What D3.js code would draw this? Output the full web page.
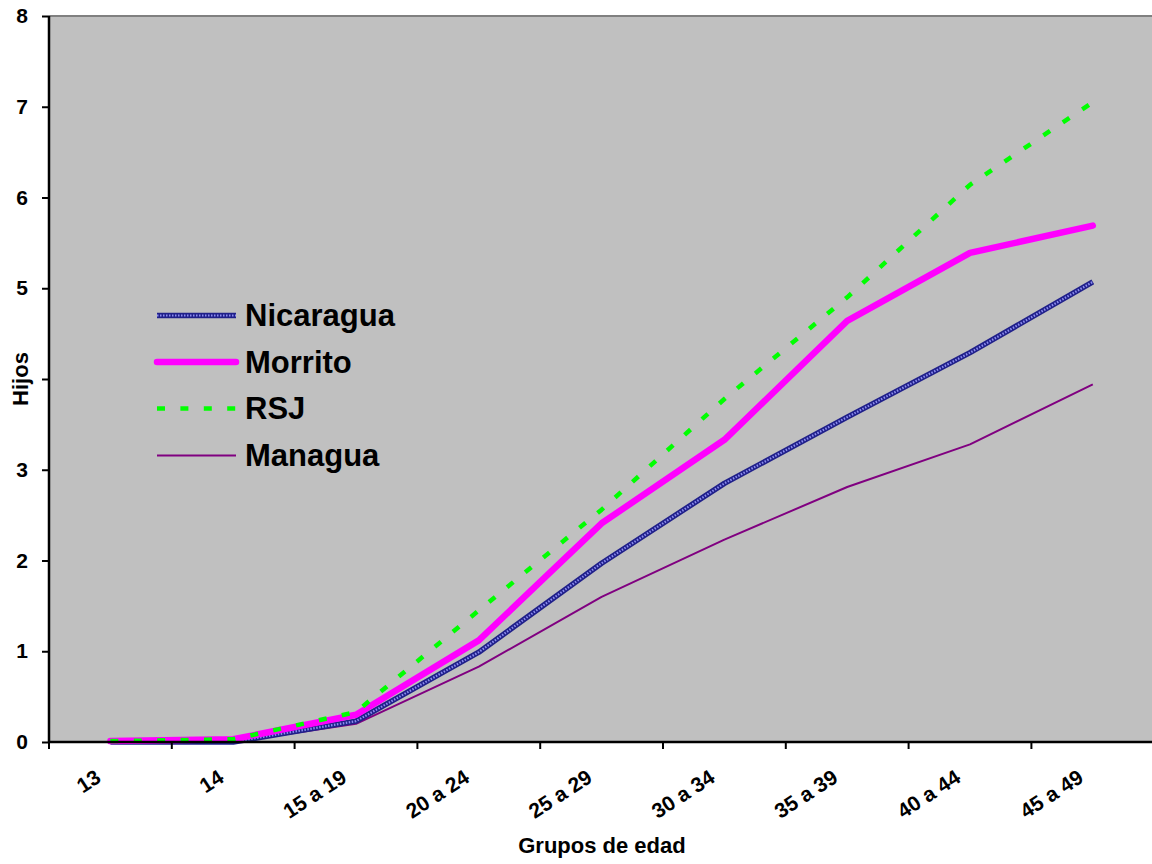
<!DOCTYPE html>
<html>
<head>
<meta charset="utf-8">
<script src="https://cdn.jsdelivr.net/npm/d3@7"></script>
<style>
  html, body { margin: 0; padding: 0; background: #ffffff; }
  svg { display: block; font-family: "Liberation Sans", Arial, sans-serif; }
</style>
</head>
<body>
<svg id="chart" width="1152" height="864"></svg>
<script>
// Age groups (x categories)
const categories = ["13", "14", "15 a 19", "20 a 24", "25 a 29", "30 a 34", "35 a 39", "40 a 44", "45 a 49"];

// Average number of children by age group
const nicaragua = [0.00, 0.00, 0.23, 0.99, 1.97, 2.85, 3.58, 4.29, 5.07];
const morrito   = [0.01, 0.03, 0.30, 1.12, 2.41, 3.33, 4.64, 5.39, 5.69];
const rsj       = [0.01, 0.03, 0.33, 1.45, 2.56, 3.78, 4.90, 6.14, 7.05];
const managua   = [0.00, 0.00, 0.20, 0.83, 1.60, 2.23, 2.81, 3.28, 3.94];

const yTicks = [0, 1, 2, 3, 4, 5, 6, 7, 8];
const seriesNames = ["Nicaragua", "Morrito", "RSJ", "Managua"];

const svg = d3.select("#chart");
const plot = { left: 49, top: 16, bottom: 742, right: 49 + 9 * 122.8 };

const x = d3.scaleBand().domain(categories).range([plot.left, plot.right]).paddingInner(0).paddingOuter(0);
const y = d3.scaleLinear().domain([0, 8]).range([plot.bottom, plot.top]);
const cx = c => x(c) + x.bandwidth() / 2;

// Plot background and border
svg.append("rect")
  .attr("x", plot.left).attr("y", plot.top)
  .attr("width", plot.right - plot.left).attr("height", plot.bottom - plot.top)
  .attr("fill", "#c0c0c0");
svg.append("line")
  .attr("x1", plot.left).attr("x2", plot.right)
  .attr("y1", plot.top).attr("y2", plot.top)
  .attr("stroke", "#808080").attr("stroke-width", 2);
svg.append("line")
  .attr("x1", plot.right).attr("x2", plot.right)
  .attr("y1", plot.top).attr("y2", plot.bottom)
  .attr("stroke", "#808080").attr("stroke-width", 2);

// Series styles
const styles = {
  Nicaragua: [
    { stroke: "#20208a", width: 5.5, dash: null, cap: "butt" },
    { stroke: "#8c8cf0", width: 2.2, dash: "1.5,1.5", cap: "butt" }
  ],
  Morrito: [{ stroke: "#ff00ff", width: 6.5, dash: null, cap: "round" }],
  RSJ: [{ stroke: "#00ff00", width: 4.5, dash: "8,15.4", cap: "butt" }],
  Managua: [{ stroke: "#800080", width: 2, dash: null, cap: "butt" }]
};
const seriesData = { Nicaragua: nicaragua, Morrito: morrito, RSJ: rsj, Managua: managua };

const line = d3.line().x(d => cx(d.c)).y(d => y(d.v));

// draw order: Managua, Nicaragua, Morrito, RSJ on top
["Managua", "Nicaragua", "Morrito", "RSJ"].forEach(name => {
  const pts = categories.map((c, i) => ({ c, v: seriesData[name][i] }));
  styles[name].forEach(s => {
    svg.append("path")
      .datum(pts)
      .attr("d", line)
      .attr("fill", "none")
      .attr("stroke", s.stroke)
      .attr("stroke-width", s.width)
      .attr("stroke-linejoin", "round")
      .attr("stroke-linecap", s.cap)
      .attr("stroke-dasharray", s.dash);
  });
});

// Y axis
const yAxis = svg.append("g")
  .attr("transform", `translate(${plot.left},0)`)
  .call(d3.axisLeft(y).tickValues(yTicks).tickSize(7).tickPadding(14).tickFormat(d3.format("d")));
yAxis.select(".domain").attr("stroke", "#000").attr("stroke-width", 2.5).attr("d", `M0,${plot.top}V${plot.bottom}`);
yAxis.selectAll(".tick line").attr("stroke", "#000").attr("stroke-width", 2);
yAxis.selectAll(".tick text")
  .attr("font-size", 21).attr("font-weight", "bold").attr("fill", "#000")
  .attr("font-family", "Liberation Sans, Arial, sans-serif");

// X axis: labels at category centres, ticks at category boundaries
const xAxis = svg.append("g")
  .attr("transform", `translate(0,${plot.bottom})`)
  .call(d3.axisBottom(x).tickSize(0).tickPadding(0));
xAxis.select(".domain").attr("stroke", "#000").attr("stroke-width", 2.5)
  .attr("d", `M${plot.left},0H${plot.right}`);
xAxis.selectAll(".tick text")
  .attr("font-size", 21).attr("font-weight", "bold").attr("fill", "#000")
  .attr("font-family", "Liberation Sans, Arial, sans-serif")
  .attr("text-anchor", "end")
  .attr("x", 0).attr("y", 0).attr("dy", 0)
  .attr("transform", "translate(-8,39) rotate(-33)");
const bounds = categories.map(c => x(c)).concat([plot.right]);
xAxis.selectAll(".bound")
  .data(bounds)
  .enter().append("line")
  .attr("class", "bound")
  .attr("x1", d => d).attr("x2", d => d)
  .attr("y1", 0).attr("y2", 7)
  .attr("stroke", "#000").attr("stroke-width", 2);

// Axis titles
svg.append("text")
  .attr("x", 602).attr("y", 853)
  .attr("text-anchor", "middle")
  .attr("font-size", 22).attr("font-weight", "bold")
  .text("Grupos de edad");

const yTitle = svg.append("g").attr("transform", "translate(28,379) rotate(-90)");
yTitle.append("rect")
  .attr("x", -29).attr("y", -18).attr("width", 58).attr("height", 20)
  .attr("fill", "#ffffff");
yTitle.append("text")
  .attr("x", 0).attr("y", 0)
  .attr("text-anchor", "middle")
  .attr("font-size", 22).attr("font-weight", "bold")
  .text("Hijos");

// Legend
const legendY = [315.5, 362, 408.5, 455.5];
const legend = svg.append("g");
seriesNames.forEach((name, i) => {
  const ly = legendY[i];
  styles[name].forEach(s => {
    legend.append("line")
      .attr("x1", 157).attr("x2", 236)
      .attr("y1", ly).attr("y2", ly)
      .attr("stroke", s.stroke)
      .attr("stroke-width", s.width)
      .attr("stroke-linecap", s.cap)
      .attr("stroke-dasharray", s.dash);
  });
  legend.append("text")
    .attr("x", 245).attr("y", ly).attr("dy", "0.35em")
    .attr("font-size", 31).attr("font-weight", "bold")
    .text(name);
});
</script>
</body>
</html>
